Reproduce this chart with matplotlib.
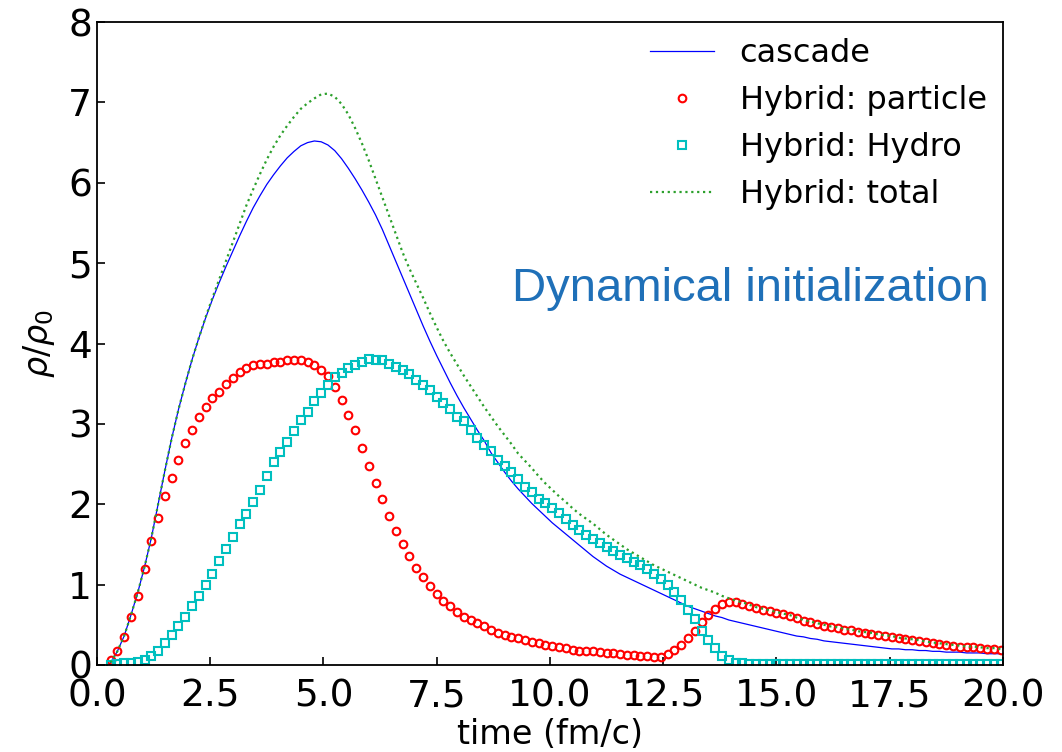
import numpy as np
import matplotlib
matplotlib.use("Agg")
import matplotlib.pyplot as plt

# sampling times of the output (fm/c)
t = np.round(0.3 + 0.15 * np.arange(132), 2)

cascade = [
    0.03, 0.17, 0.36, 0.62, 0.90, 1.22, 1.58, 2.00, 2.42, 2.82,
    3.18, 3.50, 3.80, 4.07, 4.32, 4.55, 4.76, 4.96, 5.15, 5.34,
    5.52, 5.69, 5.84, 5.98, 6.10, 6.21, 6.31, 6.39, 6.46, 6.50,
    6.52, 6.51, 6.47, 6.40, 6.30, 6.18, 6.05, 5.91, 5.76, 5.60,
    5.42, 5.22, 5.02, 4.82, 4.62, 4.42, 4.22, 4.03, 3.85, 3.68,
    3.51, 3.35, 3.20, 3.06, 2.92, 2.79, 2.64, 2.52, 2.40, 2.29,
    2.19, 2.10, 2.01, 1.93, 1.85, 1.77, 1.70, 1.63, 1.56, 1.49,
    1.42, 1.35, 1.29, 1.23, 1.18, 1.13, 1.09, 1.05, 1.01, 0.97,
    0.93, 0.89, 0.85, 0.81, 0.77, 0.73, 0.70, 0.67, 0.64, 0.61,
    0.59, 0.56, 0.54, 0.52, 0.50, 0.48, 0.46, 0.44, 0.42, 0.40,
    0.38, 0.36, 0.35, 0.33, 0.32, 0.30, 0.29, 0.28, 0.27, 0.26,
    0.25, 0.24, 0.23, 0.22, 0.21, 0.20, 0.20, 0.19, 0.19, 0.18,
    0.18, 0.17, 0.17, 0.16, 0.16, 0.16, 0.15, 0.15, 0.15, 0.14,
    0.14, 0.14]

particle = [
    0.06, 0.17, 0.35, 0.60, 0.86, 1.19, 1.54, 1.83, 2.10, 2.33,
    2.55, 2.76, 2.92, 3.09, 3.21, 3.32, 3.40, 3.50, 3.57, 3.65,
    3.69, 3.73, 3.75, 3.75, 3.77, 3.77, 3.79, 3.79, 3.79, 3.77,
    3.73, 3.67, 3.59, 3.46, 3.30, 3.11, 2.92, 2.70, 2.47, 2.26,
    2.06, 1.85, 1.67, 1.50, 1.36, 1.21, 1.09, 0.98, 0.88, 0.80,
    0.73, 0.66, 0.60, 0.56, 0.52, 0.48, 0.44, 0.40, 0.37, 0.35,
    0.33, 0.31, 0.29, 0.27, 0.25, 0.24, 0.22, 0.21, 0.19, 0.18,
    0.17, 0.17, 0.16, 0.15, 0.15, 0.14, 0.13, 0.12, 0.11, 0.11,
    0.10, 0.10, 0.14, 0.19, 0.25, 0.33, 0.42, 0.53, 0.62, 0.70,
    0.76, 0.78, 0.78, 0.76, 0.74, 0.71, 0.69, 0.67, 0.65, 0.63,
    0.61, 0.58, 0.55, 0.53, 0.51, 0.49, 0.47, 0.46, 0.44, 0.43,
    0.41, 0.40, 0.39, 0.37, 0.36, 0.35, 0.33, 0.32, 0.31, 0.30,
    0.28, 0.27, 0.26, 0.25, 0.24, 0.23, 0.22, 0.22, 0.21, 0.20,
    0.20, 0.19]

hydro = [
    0.00, 0.01, 0.02, 0.03, 0.04, 0.06, 0.11, 0.17, 0.27, 0.37,
    0.48, 0.60, 0.74, 0.86, 1.00, 1.13, 1.30, 1.44, 1.59, 1.75,
    1.88, 2.03, 2.18, 2.35, 2.52, 2.65, 2.78, 2.91, 3.05, 3.15,
    3.28, 3.38, 3.48, 3.58, 3.63, 3.69, 3.73, 3.77, 3.81, 3.80,
    3.79, 3.75, 3.71, 3.67, 3.62, 3.55, 3.48, 3.42, 3.34, 3.26,
    3.18, 3.09, 3.03, 2.92, 2.82, 2.74, 2.66, 2.55, 2.48, 2.40,
    2.32, 2.22, 2.15, 2.07, 2.01, 1.95, 1.89, 1.82, 1.74, 1.68,
    1.62, 1.57, 1.52, 1.47, 1.42, 1.37, 1.33, 1.28, 1.24, 1.19,
    1.13, 1.07, 1.00, 0.91, 0.81, 0.68, 0.57, 0.42, 0.31, 0.21,
    0.11, 0.06, 0.03, 0.02, 0.01, 0.01, 0.01, 0.01, 0.01, 0.01,
    0.01, 0.01, 0.01, 0.01, 0.01, 0.01, 0.01, 0.01, 0.01, 0.01,
    0.01, 0.01, 0.01, 0.01, 0.01, 0.01, 0.01, 0.01, 0.01, 0.01,
    0.01, 0.01, 0.01, 0.01, 0.01, 0.01, 0.01, 0.01, 0.01, 0.01,
    0.01, 0.01]

total = [
    0.03, 0.17, 0.36, 0.62, 0.90, 1.22, 1.58, 2.00, 2.42, 2.82,
    3.18, 3.50, 3.80, 4.07, 4.33, 4.57, 4.80, 5.03, 5.26, 5.49,
    5.72, 5.92, 6.11, 6.29, 6.45, 6.59, 6.71, 6.82, 6.92, 6.99,
    7.05, 7.10, 7.11, 7.07, 6.98, 6.85, 6.68, 6.49, 6.28, 6.05,
    5.82, 5.59, 5.36, 5.13, 4.93, 4.75, 4.57, 4.38, 4.20, 4.03,
    3.88, 3.74, 3.60, 3.47, 3.34, 3.21, 3.09, 2.97, 2.86, 2.75,
    2.63, 2.54, 2.45, 2.35, 2.26, 2.18, 2.10, 2.03, 1.95, 1.88,
    1.82, 1.76, 1.69, 1.62, 1.56, 1.50, 1.44, 1.39, 1.34, 1.29,
    1.24, 1.20, 1.16, 1.12, 1.08, 1.04, 1.00, 0.96, 0.93, 0.90,
    0.86, 0.83, 0.80, 0.78, 0.75, 0.72, 0.70, 0.68, 0.66, 0.64,
    0.62, 0.59, 0.56, 0.54, 0.52, 0.50, 0.48, 0.47, 0.45, 0.44,
    0.42, 0.41, 0.40, 0.38, 0.37, 0.36, 0.34, 0.33, 0.32, 0.31,
    0.29, 0.28, 0.27, 0.26, 0.25, 0.24, 0.23, 0.23, 0.22, 0.21,
    0.21, 0.20]

fig = plt.figure(figsize=(10.62, 7.52), dpi=100)
ax = fig.add_axes([0.0913, 0.1157, 0.853, 0.855])

ax.plot(t, cascade, "b-", lw=0.9, label="cascade")
ax.plot(t, particle, "o", color="r", mfc="none", ms=5.5, mew=1.5,
        label="Hybrid: particle")
ax.plot(t, hydro, "s", color="c", mfc="none", ms=5.5, mew=1.5,
        label="Hybrid: Hydro")
ax.plot(t, total, ":", color="#2ca02c", lw=1.6, label="Hybrid: total")

ax.set_xlim(0, 20)
ax.set_ylim(0, 8)
ax.set_xticks([0, 2.5, 5, 7.5, 10, 12.5, 15, 17.5, 20])
ax.set_xticklabels(["0.0", "2.5", "5.0", "7.5", "10.0", "12.5", "15.0", "17.5", "20.0"])
ax.tick_params(direction="in", labelsize=27, length=6, width=1.2)
ax.tick_params(axis="x", pad=10)
for s in ax.spines.values():
    s.set_linewidth(1.3)

ax.set_xlabel("time (fm/c)", fontsize=24, labelpad=2)
ax.set_ylabel(r"$\rho/\rho_0$", fontsize=24, labelpad=8)

ax.text(19.7, 4.68, "Dynamical initialization", color="#1f70b8",
        fontsize=34, family="Liberation Sans", ha="right", va="center")

ax.legend(loc="upper right", frameon=False, fontsize=23, numpoints=1,
          handlelength=2.0, labelspacing=0.5, borderaxespad=0.1)

fig.savefig("out.png", dpi=100)
